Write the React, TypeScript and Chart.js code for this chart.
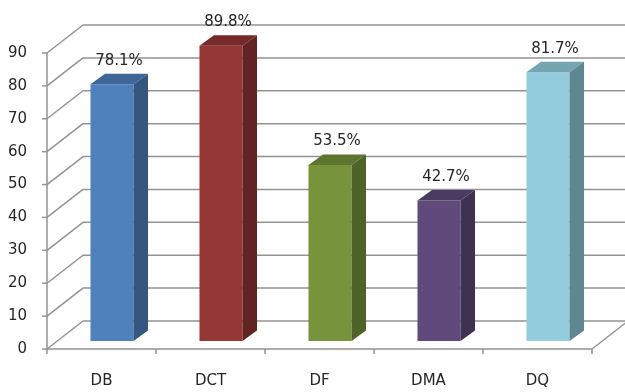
import React, { useEffect, useRef } from "react";
import { Chart, registerables } from "chart.js";

Chart.register(...registerables);

// Categories and values (percent)
const categories = ["DB", "DCT", "DF", "DMA", "DQ"];
const values = [78.1, 89.8, 53.5, 42.7, 81.7];

// Axis range
const yMin = 0;
const yMax = 90;
const yStep = 10;

// Face colours per bar: front, top, side
const frontColors = ["#4F81BD", "#953735", "#77933C", "#604A7B", "#93CDDD"];
const topColors = ["#3E6699", "#762B2A", "#5E7530", "#4B3A61", "#76A5B2"];
const sideColors = ["#34567F", "#622423", "#4F6228", "#3F3151", "#5F8792"];

const FONT = "'DejaVu Sans', Verdana, sans-serif";
const TEXT = "#262626";
const GRID = "#939393";

// 3D geometry: back wall depth, bar front plane offset, bar depth
const WALL = { dx: 36, dy: -28 };
const BAR_SHIFT = { dx: 10.5, dy: -8 };
const BAR_DEPTH = { dx: 14.5, dy: -10.5 };

const wallPlugin = {
  id: "wall3d",
  beforeDatasetsDraw(chart: any) {
    const { ctx, chartArea, scales } = chart;
    const y = scales.y;
    const { left, right } = chartArea;
    const base = y.getPixelForValue(yMin);
    ctx.save();
    ctx.strokeStyle = GRID;
    ctx.lineWidth = 1.5;
    ctx.lineJoin = "round";
    // perspective gridlines: side wall diagonal + back wall horizontal
    for (let v = yMin; v <= yMax; v += yStep) {
      const py = y.getPixelForValue(v);
      ctx.beginPath();
      ctx.moveTo(left, py);
      ctx.lineTo(left + WALL.dx, py + WALL.dy);
      ctx.lineTo(chart.width + 5, py + WALL.dy);
      ctx.stroke();
      // y tick mark
      ctx.beginPath();
      ctx.moveTo(left - 5, py);
      ctx.lineTo(left, py);
      ctx.stroke();
    }
    // right floor edge
    ctx.beginPath();
    ctx.moveTo(right, base);
    ctx.lineTo(right + WALL.dx, base + WALL.dy);
    ctx.stroke();
    // front value axis
    ctx.beginPath();
    ctx.moveTo(left, y.getPixelForValue(yMax));
    ctx.lineTo(left, base);
    ctx.lineTo(right, base);
    ctx.stroke();
    // category tick marks
    const n = categories.length;
    const cw = (right - left) / n;
    for (let i = 0; i <= n; i++) {
      const px = left + i * cw;
      ctx.beginPath();
      ctx.moveTo(px, base);
      ctx.lineTo(px, base + 5);
      ctx.stroke();
    }
    ctx.restore();
    // shift the bar front plane into depth
    ctx.save();
    ctx.translate(BAR_SHIFT.dx, BAR_SHIFT.dy);
  },
  afterDatasetsDraw(chart: any) {
    const { ctx } = chart;
    const meta = chart.getDatasetMeta(0);
    meta.data.forEach((bar: any, i: number) => {
      const { x, y, base, width } = bar.getProps(["x", "y", "base", "width"], true);
      const l = x - width / 2;
      const r = x + width / 2;
      // top face
      ctx.fillStyle = topColors[i];
      ctx.beginPath();
      ctx.moveTo(l, y);
      ctx.lineTo(l + BAR_DEPTH.dx, y + BAR_DEPTH.dy);
      ctx.lineTo(r + BAR_DEPTH.dx, y + BAR_DEPTH.dy);
      ctx.lineTo(r, y);
      ctx.closePath();
      ctx.fill();
      // side face
      ctx.fillStyle = sideColors[i];
      ctx.beginPath();
      ctx.moveTo(r, y);
      ctx.lineTo(r + BAR_DEPTH.dx, y + BAR_DEPTH.dy);
      ctx.lineTo(r + BAR_DEPTH.dx, base + BAR_DEPTH.dy);
      ctx.lineTo(r, base);
      ctx.closePath();
      ctx.fill();
      // value label
      ctx.fillStyle = TEXT;
      ctx.font = `15px ${FONT}`;
      ctx.textAlign = "center";
      ctx.textBaseline = "middle";
      ctx.fillText(`${values[i].toFixed(1)}%`, x + 7, y + BAR_DEPTH.dy - 13);
    });
    ctx.restore();
  },
};

export default function App() {
  const canvasRef = useRef<HTMLCanvasElement>(null);

  useEffect(() => {
    const canvas = canvasRef.current;
    if (!canvas) return;
    const chart = new Chart(canvas, {
      type: "bar",
      data: {
        labels: categories,
        datasets: [
          {
            data: values,
            backgroundColor: frontColors,
            borderWidth: 0,
            categoryPercentage: 1,
            barPercentage: 0.395,
            clip: false as any,
          },
        ],
      },
      options: {
        responsive: false,
        animation: false,
        devicePixelRatio: 1,
        events: [],
        layout: { padding: { top: 53, right: 33, left: 0, bottom: 0 } },
        plugins: {
          legend: { display: false },
          tooltip: { enabled: false },
        },
        scales: {
          x: {
            grid: { display: false, drawTicks: false },
            border: { display: false },
            ticks: { font: { family: FONT, size: 15 }, color: TEXT, padding: 23 },
            afterFit: (s: any) => {
              s.height = 43;
            },
          },
          y: {
            min: yMin,
            max: yMax,
            grid: { display: false, drawTicks: false },
            border: { display: false },
            ticks: { stepSize: yStep, font: { family: FONT, size: 15 }, color: TEXT, padding: 20 },
            afterFit: (s: any) => {
              s.width = 47;
            },
          },
        },
      },
      plugins: [wallPlugin],
    });
    return () => chart.destroy();
  }, []);

  return (
    <div style={{ position: "fixed", left: 0, top: 0, width: 625, height: 392, background: "#fff" }}>
      <canvas ref={canvasRef} width={625} height={392} />
    </div>
  );
}
